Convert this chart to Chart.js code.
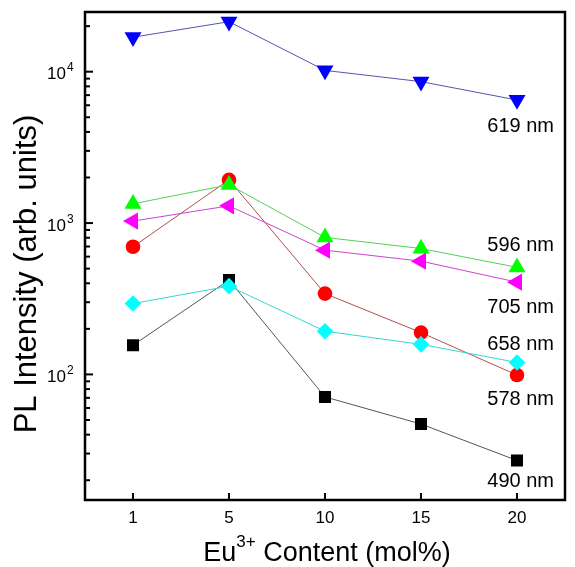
<!DOCTYPE html>
<html>
<head>
<meta charset="utf-8">
<script src="https://cdn.jsdelivr.net/npm/chart.js@4.4.1/dist/chart.umd.min.js"></script>
<style>
  html, body { margin: 0; padding: 0; background: #fff; }
</style>
</head>
<body>
<canvas id="myChart" width="575" height="567"></canvas>
<script>
// Eu3+ content (mol%)
var contents = ["1", "5", "10", "15", "20"];

// PL intensity (arb. units) per emission line
var pl619 = [16900, 21400, 10200, 8600, 6500];
var pl596 = [1340, 1790, 804, 679, 510];
var pl705 = [1030, 1300, 662, 560, 407];
var pl578 = [697, 1930, 342, 189, 99];
var pl658 = [294, 383, 193, 158, 120];
var pl490 = [156, 420, 71, 47, 27];

var yMajor = [100, 1000, 10000];
var yMinor = [20, 30, 40, 50, 60, 70, 80, 90,
              200, 300, 400, 500, 600, 700, 800, 900,
              2000, 3000, 4000, 5000, 6000, 7000, 8000, 9000, 20000];

var FONT = "'Liberation Sans', Arial, sans-serif";

// frame, inward ticks, tick labels, axis titles and series labels
var decor = {
  id: 'decor',
  afterDraw: function(chart) {
    var ctx = chart.ctx;
    var a = chart.chartArea;
    var xs = chart.scales.x, ys = chart.scales.y;
    ctx.save();
    ctx.strokeStyle = '#000';
    ctx.fillStyle = '#000';

    // y ticks
    ctx.lineWidth = 2;
    yMajor.forEach(function(v) {
      var y = ys.getPixelForValue(v);
      ctx.beginPath(); ctx.moveTo(a.left, y); ctx.lineTo(a.left + 8, y); ctx.stroke();
    });
    yMinor.forEach(function(v) {
      var y = ys.getPixelForValue(v);
      ctx.beginPath(); ctx.moveTo(a.left, y); ctx.lineTo(a.left + 5, y); ctx.stroke();
    });
    // x ticks
    contents.forEach(function(c, i) {
      var x = xs.getPixelForValue(i);
      ctx.beginPath(); ctx.moveTo(x, a.bottom); ctx.lineTo(x, a.bottom - 7); ctx.stroke();
    });

    // frame
    ctx.lineWidth = 2.5;
    ctx.strokeRect(a.left, a.top, a.right - a.left, a.bottom - a.top);

    // y tick labels 10^n
    yMajor.forEach(function(v) {
      var y = ys.getPixelForValue(v);
      var exp = String(Math.round(Math.log10(v)));
      ctx.font = '17px ' + FONT;
      ctx.textAlign = 'right';
      ctx.textBaseline = 'alphabetic';
      ctx.fillText('10', a.left - 19, y + 7.5);
      ctx.font = '12px ' + FONT;
      ctx.textAlign = 'left';
      ctx.fillText(exp, a.left - 18, y - 0.5);
    });

    // x tick labels
    ctx.font = '17px ' + FONT;
    ctx.textAlign = 'center';
    contents.forEach(function(c, i) {
      ctx.fillText(c, xs.getPixelForValue(i), a.bottom + 23);
    });

    // x title with superscript
    ctx.textAlign = 'left';
    ctx.font = '27px ' + FONT;
    var w1 = ctx.measureText('Eu').width;
    var w3 = ctx.measureText(' Content (mol%)').width;
    ctx.font = '17px ' + FONT;
    var w2 = ctx.measureText('3+').width;
    var x0 = (a.left + a.right) / 2 - (w1 + w2 + w3) / 2 + 2;
    ctx.font = '27px ' + FONT;
    ctx.fillText('Eu', x0, 561);
    ctx.fillText(' Content (mol%)', x0 + w1 + w2, 561);
    ctx.font = '17px ' + FONT;
    ctx.fillText('3+', x0 + w1, 547);

    // y title
    ctx.save();
    ctx.translate(36, 274);
    ctx.rotate(-Math.PI / 2);
    ctx.font = '31px ' + FONT;
    ctx.textAlign = 'center';
    ctx.fillText('PL Intensity (arb. units)', 0, 0);
    ctx.restore();

    // series labels at the last point
    ctx.font = '20px ' + FONT;
    ctx.textAlign = 'right';
    var dy = { '619 nm': 32, '596 nm': -16, '705 nm': 31, '658 nm': -12, '578 nm': 30, '490 nm': 27 };
    chart.data.datasets.forEach(function(ds) {
      var last = ds.data.length - 1;
      var x = xs.getPixelForValue(last);
      var y = ys.getPixelForValue(ds.data[last]);
      ctx.fillText(ds.label, x + 37, y + dy[ds.label]);
    });

    ctx.restore();
  }
};

function series(label, data, color, lineColor, style, radius, rotation) {
  return {
    label: label,
    data: data,
    borderColor: lineColor,
    borderWidth: 1,
    backgroundColor: color,
    pointBackgroundColor: color,
    pointBorderColor: color,
    pointBorderWidth: 0,
    pointStyle: style,
    pointRadius: radius,
    pointRotation: rotation || 0,
    tension: 0
  };
}

var ctx = document.getElementById("myChart").getContext('2d');
var myChart = new Chart(ctx, {
  type: 'line',
  data: {
    labels: contents,
    datasets: [
      series('705 nm', pl705, '#ff00ff', '#cc44cc', 'triangle', 10, 270),
      series('658 nm', pl658, '#00ffff', '#33d6d6', 'rectRot', 8.3),
      series('619 nm', pl619, '#0000ff', '#5555aa', 'triangle', 9.8, 180),
      series('596 nm', pl596, '#00ff00', '#55d055', 'triangle', 9.8),
      series('578 nm', pl578, '#ff0000', '#b05050', 'circle', 7.3),
      series('490 nm', pl490, '#000000', '#555555', 'rect', 8.5)
    ]
  },
  options: {
    responsive: false,
    animation: false,
    events: [],
    layout: { padding: { left: 85, top: 12, right: 4, bottom: 67 } },
    plugins: { legend: { display: false }, tooltip: { enabled: false } },
    scales: {
      x: { type: 'category', offset: true, display: false },
      y: { type: 'logarithmic', min: 14.8, max: 24800, display: false }
    }
  },
  plugins: [decor]
});
</script>
</body>
</html>
